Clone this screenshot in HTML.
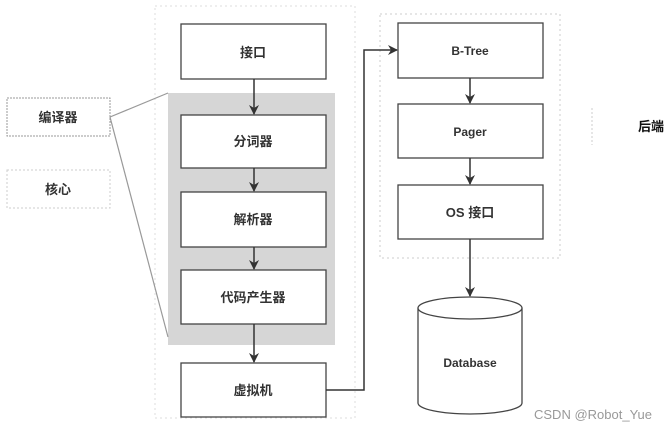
<!DOCTYPE html>
<html><head><meta charset="utf-8"><style>
body{margin:0;background:#fff;}
svg text{font-family:"Liberation Sans","Noto Sans CJK SC",sans-serif;font-weight:bold;fill:#333;}
</style></head><body>
<svg width="672" height="431" viewBox="0 0 672 431" xmlns="http://www.w3.org/2000/svg">
<defs><marker id="a" markerWidth="10" markerHeight="10" refX="9" refY="5" orient="auto" markerUnits="userSpaceOnUse"><path d="M0,0 L10,5 L0,10 L3,5 Z" fill="#333"/></marker></defs>
<rect x="155" y="6" width="200" height="412" fill="none" stroke="#ddd" stroke-dasharray="2,3"/>
<rect x="380" y="14" width="180" height="244" fill="none" stroke="#ccc" stroke-dasharray="2,3"/>
<line x1="592" y1="108" x2="592" y2="145" stroke="#ccc" stroke-dasharray="2,2"/>
<rect x="168" y="93" width="167" height="252" fill="#d6d6d6"/>
<rect x="7" y="98" width="103" height="38" fill="#fff" stroke="#999" stroke-dasharray="2,1"/>
<rect x="7" y="170" width="103" height="38" fill="#fff" stroke="#ccc" stroke-dasharray="2,2"/>
<line x1="110" y1="117" x2="168" y2="93" stroke="#999" stroke-width="1.2"/>
<line x1="110" y1="117" x2="168" y2="337" stroke="#999" stroke-width="1.2"/>
<g fill="#fff" stroke="#444" stroke-width="1.3">
<rect x="181" y="24" width="145" height="55"/>
<rect x="181" y="115" width="145" height="53"/>
<rect x="181" y="192" width="145" height="55"/>
<rect x="181" y="270" width="145" height="54"/>
<rect x="181" y="363" width="145" height="54"/>
<rect x="398" y="23" width="145" height="55"/>
<rect x="398" y="104" width="145" height="54"/>
<rect x="398" y="185" width="145" height="54"/>
</g>
<g stroke="#333" stroke-width="1.5" marker-end="url(#a)" fill="none">
<line x1="254" y1="79" x2="254" y2="114"/>
<line x1="254" y1="168" x2="254" y2="191"/>
<line x1="254" y1="247" x2="254" y2="269"/>
<line x1="254" y1="324" x2="254" y2="362"/>
<line x1="470" y1="78" x2="470" y2="103"/>
<line x1="470" y1="158" x2="470" y2="184"/>
<line x1="470" y1="239" x2="470" y2="296"/>
<polyline points="326,390 364,390 364,50 397,50"/>
</g>
<path d="M418,308 L418,403 A52,11 0 0 0 522,403 L522,308" fill="#fff" stroke="#444" stroke-width="1.3"/>
<ellipse cx="470" cy="308" rx="52" ry="11" fill="#fff" stroke="#444" stroke-width="1.3"/>
<g font-size="13" text-anchor="middle">
<text x="58" y="122">编译器</text>
<text x="58" y="194">核心</text>
<text x="253" y="57">接口</text>
<text x="253" y="146">分词器</text>
<text x="253" y="224">解析器</text>
<text x="253" y="302">代码产生器</text>
<text x="253" y="395">虚拟机</text>
<text x="470" y="55" font-size="12">B-Tree</text>
<text x="470" y="136" font-size="12">Pager</text>
<text x="470" y="217">OS 接口</text>
<text x="470" y="367" font-size="12">Database</text>
<text x="651" y="131" style="fill:#111">后端</text>
</g>
<text x="593" y="419" font-size="13" text-anchor="middle" style="font-weight:normal;fill:#999">CSDN @Robot_Yue</text>
</svg>
</body></html>
